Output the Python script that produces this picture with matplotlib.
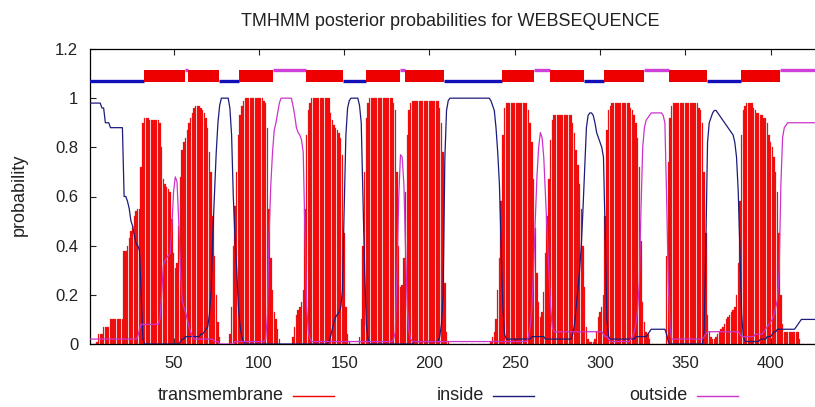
import numpy as np
import matplotlib
matplotlib.use("Agg")
import matplotlib.pyplot as plt
from matplotlib.lines import Line2D

plt.rcParams['font.family'] = ['Liberation Sans', 'DejaVu Sans']

#%% data, one value per residue (1..426)
tm_prob = [
    0.00, 0.00, 0.00, 0.00, 0.01, 0.04, 0.04, 0.04, 0.07, 0.07,  # 1-10
    0.07, 0.07, 0.10, 0.10, 0.10, 0.10, 0.10, 0.10, 0.10, 0.10,  # 11-20
    0.38, 0.38, 0.40, 0.43, 0.46, 0.48, 0.52, 0.54, 0.55, 0.55,  # 21-30
    0.72, 0.90, 0.92, 0.92, 0.92, 0.91, 0.91, 0.91, 0.91, 0.91,  # 31-40
    0.91, 0.90, 0.80, 0.67, 0.65, 0.64, 0.63, 0.62, 0.51, 0.37,  # 41-50
    0.31, 0.33, 0.48, 0.68, 0.79, 0.82, 0.84, 0.87, 0.90, 0.92,  # 51-60
    0.94, 0.96, 0.97, 0.97, 0.97, 0.96, 0.95, 0.94, 0.92, 0.88,  # 61-70
    0.78, 0.70, 0.52, 0.36, 0.20, 0.09, 0.03, 0.00, 0.00, 0.00,  # 71-80
    0.00, 0.00, 0.04, 0.15, 0.40, 0.56, 0.70, 0.85, 0.93, 0.97,  # 81-90
    0.99, 1.00, 1.00, 1.00, 1.00, 1.00, 1.00, 1.00, 1.00, 1.00,  # 91-100
    1.00, 1.00, 0.99, 0.98, 0.88, 0.55, 0.35, 0.22, 0.13, 0.10,  # 101-110
    0.06, 0.02, 0.00, 0.00, 0.00, 0.00, 0.00, 0.00, 0.00, 0.03,  # 111-120
    0.07, 0.12, 0.14, 0.15, 0.17, 0.22, 0.55, 0.85, 0.95, 0.98,  # 121-130
    1.00, 1.00, 1.00, 1.00, 1.00, 1.00, 1.00, 1.00, 1.00, 1.00,  # 131-140
    1.00, 0.94, 0.91, 0.89, 0.88, 0.87, 0.86, 0.84, 0.77, 0.45,  # 141-150
    0.15, 0.04, 0.01, 0.00, 0.00, 0.00, 0.00, 0.00, 0.03, 0.10,  # 151-160
    0.40, 0.70, 0.92, 0.98, 1.00, 1.00, 1.00, 1.00, 1.00, 1.00,  # 161-170
    1.00, 1.00, 1.00, 1.00, 1.00, 1.00, 1.00, 1.00, 0.98, 0.95,  # 171-180
    0.70, 0.40, 0.23, 0.24, 0.35, 0.62, 0.85, 0.95, 0.98, 0.99,  # 181-190
    0.99, 0.99, 0.99, 0.99, 0.99, 0.99, 0.99, 0.99, 0.99, 0.99,  # 191-200
    0.99, 0.99, 0.99, 0.99, 0.99, 0.96, 0.90, 0.78, 0.25, 0.05,  # 201-210
    0.01, 0.00, 0.00, 0.00, 0.00, 0.00, 0.00, 0.00, 0.00, 0.00,  # 211-220
    0.00, 0.00, 0.00, 0.00, 0.00, 0.00, 0.00, 0.00, 0.00, 0.00,  # 221-230
    0.00, 0.00, 0.00, 0.00, 0.00, 0.01, 0.03, 0.05, 0.10, 0.22,  # 231-240
    0.35, 0.58, 0.85, 0.96, 0.98, 0.98, 0.98, 0.98, 0.98, 0.98,  # 241-250
    0.98, 0.98, 0.98, 0.98, 0.98, 0.98, 0.98, 0.95, 0.90, 0.82,  # 251-260
    0.67, 0.47, 0.29, 0.17, 0.11, 0.13, 0.21, 0.37, 0.52, 0.67,  # 261-270
    0.83, 0.91, 0.93, 0.93, 0.93, 0.93, 0.93, 0.93, 0.93, 0.93,  # 271-280
    0.93, 0.93, 0.93, 0.90, 0.86, 0.79, 0.73, 0.65, 0.55, 0.40,  # 281-290
    0.23, 0.07, 0.02, 0.01, 0.01, 0.01, 0.02, 0.05, 0.11, 0.13,  # 291-300
    0.15, 0.20, 0.52, 0.87, 0.95, 0.97, 0.98, 0.98, 0.98, 0.98,  # 301-310
    0.98, 0.98, 0.98, 0.98, 0.98, 0.98, 0.98, 0.96, 0.95, 0.93,  # 311-320
    0.90, 0.84, 0.72, 0.42, 0.17, 0.09, 0.05, 0.04, 0.02, 0.00,  # 321-330
    0.00, 0.00, 0.00, 0.00, 0.00, 0.00, 0.00, 0.00, 0.36, 0.74,  # 331-340
    0.92, 0.97, 0.98, 0.98, 0.98, 0.98, 0.98, 0.98, 0.98, 0.98,  # 341-350
    0.98, 0.98, 0.98, 0.98, 0.98, 0.98, 0.98, 0.96, 0.95, 0.90,  # 351-360
    0.70, 0.45, 0.12, 0.05, 0.03, 0.02, 0.02, 0.03, 0.04, 0.05,  # 361-370
    0.06, 0.07, 0.08, 0.10, 0.11, 0.12, 0.13, 0.14, 0.15, 0.20,  # 371-380
    0.33, 0.58, 0.85, 0.95, 0.97, 0.98, 0.98, 0.98, 0.98, 0.96,  # 381-390
    0.95, 0.94, 0.94, 0.93, 0.93, 0.92, 0.92, 0.90, 0.85, 0.82,  # 391-400
    0.80, 0.76, 0.70, 0.62, 0.45, 0.20, 0.08, 0.05, 0.05, 0.05,  # 401-410
    0.05, 0.05, 0.05, 0.05, 0.05, 0.05, 0.02, 0.00, 0.00, 0.00,  # 411-420
    0.00, 0.00, 0.00, 0.00, 0.00, 0.00,                          # 421-426
]

inside_prob = [
    0.98, 0.98, 0.98, 0.98, 0.98, 0.98, 0.98, 0.96, 0.96, 0.90,  # 1-10
    0.90, 0.90, 0.88, 0.88, 0.88, 0.88, 0.88, 0.88, 0.88, 0.88,  # 11-20
    0.60, 0.60, 0.58, 0.55, 0.50, 0.48, 0.44, 0.41, 0.40, 0.38,  # 21-30
    0.20, 0.02, 0.00, 0.00, 0.00, 0.00, 0.00, 0.00, 0.00, 0.00,  # 31-40
    0.00, 0.00, 0.00, 0.00, 0.00, 0.00, 0.00, 0.00, 0.00, 0.00,  # 41-50
    0.00, 0.00, 0.00, 0.01, 0.02, 0.02, 0.03, 0.03, 0.03, 0.03,  # 51-60
    0.03, 0.03, 0.03, 0.03, 0.03, 0.04, 0.04, 0.05, 0.06, 0.07,  # 61-70
    0.12, 0.22, 0.45, 0.62, 0.78, 0.90, 0.97, 1.00, 1.00, 1.00,  # 71-80
    1.00, 1.00, 0.96, 0.85, 0.60, 0.43, 0.30, 0.15, 0.07, 0.03,  # 81-90
    0.01, 0.00, 0.00, 0.00, 0.00, 0.00, 0.00, 0.00, 0.00, 0.00,  # 91-100
    0.00, 0.00, 0.00, 0.00, 0.00, 0.00, 0.00, 0.00, 0.00, 0.00,  # 101-110
    0.00, 0.00, 0.00, 0.00, 0.00, 0.00, 0.00, 0.00, 0.00, 0.00,  # 111-120
    0.00, 0.00, 0.00, 0.00, 0.00, 0.00, 0.00, 0.00, 0.00, 0.00,  # 121-130
    0.00, 0.00, 0.00, 0.00, 0.00, 0.00, 0.00, 0.00, 0.00, 0.00,  # 131-140
    0.01, 0.03, 0.06, 0.09, 0.11, 0.12, 0.13, 0.15, 0.22, 0.55,  # 141-150
    0.85, 0.96, 0.99, 1.00, 1.00, 1.00, 1.00, 1.00, 0.97, 0.90,  # 151-160
    0.60, 0.30, 0.08, 0.02, 0.00, 0.00, 0.00, 0.00, 0.00, 0.00,  # 161-170
    0.00, 0.00, 0.00, 0.00, 0.00, 0.00, 0.00, 0.00, 0.00, 0.00,  # 171-180
    0.00, 0.00, 0.00, 0.00, 0.00, 0.00, 0.00, 0.00, 0.00, 0.00,  # 181-190
    0.01, 0.01, 0.01, 0.01, 0.01, 0.01, 0.01, 0.01, 0.01, 0.01,  # 191-200
    0.01, 0.01, 0.01, 0.01, 0.01, 0.03, 0.08, 0.20, 0.75, 0.95,  # 201-210
    0.99, 1.00, 1.00, 1.00, 1.00, 1.00, 1.00, 1.00, 1.00, 1.00,  # 211-220
    1.00, 1.00, 1.00, 1.00, 1.00, 1.00, 1.00, 1.00, 1.00, 1.00,  # 221-230
    1.00, 1.00, 1.00, 1.00, 1.00, 0.99, 0.97, 0.95, 0.88, 0.78,  # 231-240
    0.65, 0.40, 0.15, 0.04, 0.02, 0.02, 0.02, 0.02, 0.02, 0.02,  # 241-250
    0.02, 0.02, 0.02, 0.02, 0.02, 0.02, 0.02, 0.02, 0.02, 0.03,  # 251-260
    0.03, 0.03, 0.03, 0.03, 0.03, 0.03, 0.03, 0.02, 0.02, 0.02,  # 261-270
    0.02, 0.02, 0.02, 0.02, 0.02, 0.02, 0.02, 0.02, 0.02, 0.02,  # 271-280
    0.02, 0.02, 0.02, 0.04, 0.08, 0.15, 0.22, 0.30, 0.40, 0.55,  # 281-290
    0.72, 0.88, 0.93, 0.94, 0.94, 0.93, 0.90, 0.86, 0.84, 0.82,  # 291-300
    0.80, 0.76, 0.45, 0.10, 0.03, 0.02, 0.02, 0.02, 0.02, 0.02,  # 301-310
    0.02, 0.02, 0.02, 0.02, 0.02, 0.02, 0.02, 0.02, 0.02, 0.02,  # 311-320
    0.03, 0.03, 0.03, 0.03, 0.03, 0.03, 0.03, 0.04, 0.05, 0.06,  # 321-330
    0.06, 0.06, 0.06, 0.06, 0.06, 0.06, 0.06, 0.06, 0.04, 0.01,  # 331-340
    0.00, 0.00, 0.00, 0.00, 0.00, 0.00, 0.00, 0.00, 0.00, 0.00,  # 341-350
    0.00, 0.00, 0.00, 0.00, 0.00, 0.00, 0.00, 0.00, 0.00, 0.00,  # 351-360
    0.05, 0.40, 0.82, 0.90, 0.92, 0.94, 0.95, 0.95, 0.94, 0.93,  # 361-370
    0.92, 0.91, 0.90, 0.89, 0.88, 0.87, 0.86, 0.85, 0.82, 0.76,  # 371-380
    0.62, 0.38, 0.12, 0.03, 0.01, 0.01, 0.01, 0.01, 0.01, 0.01,  # 381-390
    0.01, 0.01, 0.01, 0.02, 0.02, 0.02, 0.02, 0.03, 0.03, 0.03,  # 391-400
    0.04, 0.05, 0.05, 0.06, 0.06, 0.06, 0.06, 0.06, 0.06, 0.06,  # 401-410
    0.06, 0.06, 0.06, 0.06, 0.07, 0.08, 0.09, 0.10, 0.10, 0.10,  # 411-420
    0.10, 0.10, 0.10, 0.10, 0.10, 0.10,                          # 421-426
]

outside_prob = [
    0.02, 0.02, 0.02, 0.02, 0.02, 0.02, 0.02, 0.02, 0.02, 0.02,  # 1-10
    0.02, 0.02, 0.02, 0.02, 0.02, 0.02, 0.02, 0.02, 0.02, 0.02,  # 11-20
    0.02, 0.02, 0.02, 0.02, 0.02, 0.02, 0.02, 0.02, 0.03, 0.06,  # 21-30
    0.08, 0.08, 0.08, 0.08, 0.08, 0.08, 0.08, 0.08, 0.08, 0.08,  # 31-40
    0.08, 0.10, 0.20, 0.32, 0.34, 0.35, 0.36, 0.37, 0.48, 0.62,  # 41-50
    0.68, 0.66, 0.50, 0.30, 0.18, 0.15, 0.13, 0.10, 0.07, 0.05,  # 51-60
    0.03, 0.02, 0.02, 0.02, 0.02, 0.02, 0.02, 0.02, 0.02, 0.02,  # 61-70
    0.02, 0.02, 0.02, 0.01, 0.01, 0.01, 0.00, 0.00, 0.00, 0.00,  # 71-80
    0.00, 0.00, 0.00, 0.00, 0.00, 0.01, 0.01, 0.01, 0.01, 0.01,  # 81-90
    0.01, 0.01, 0.01, 0.01, 0.01, 0.01, 0.01, 0.01, 0.01, 0.01,  # 91-100
    0.01, 0.01, 0.01, 0.02, 0.12, 0.45, 0.65, 0.78, 0.87, 0.90,  # 101-110
    0.94, 0.98, 1.00, 1.00, 1.00, 1.00, 1.00, 1.00, 1.00, 0.97,  # 111-120
    0.93, 0.88, 0.86, 0.85, 0.83, 0.78, 0.45, 0.15, 0.05, 0.02,  # 121-130
    0.01, 0.01, 0.01, 0.01, 0.01, 0.01, 0.01, 0.01, 0.01, 0.01,  # 131-140
    0.01, 0.01, 0.01, 0.01, 0.01, 0.01, 0.01, 0.01, 0.01, 0.01,  # 141-150
    0.01, 0.01, 0.01, 0.01, 0.01, 0.01, 0.01, 0.01, 0.01, 0.01,  # 151-160
    0.01, 0.01, 0.01, 0.01, 0.01, 0.01, 0.01, 0.01, 0.01, 0.01,  # 161-170
    0.01, 0.01, 0.01, 0.01, 0.01, 0.01, 0.01, 0.01, 0.02, 0.05,  # 171-180
    0.30, 0.60, 0.77, 0.76, 0.65, 0.38, 0.15, 0.05, 0.02, 0.01,  # 181-190
    0.01, 0.01, 0.01, 0.01, 0.01, 0.01, 0.01, 0.01, 0.01, 0.01,  # 191-200
    0.01, 0.01, 0.01, 0.01, 0.01, 0.01, 0.01, 0.01, 0.01, 0.01,  # 201-210
    0.01, 0.01, 0.01, 0.01, 0.01, 0.01, 0.01, 0.01, 0.01, 0.01,  # 211-220
    0.01, 0.01, 0.01, 0.01, 0.01, 0.01, 0.01, 0.01, 0.01, 0.01,  # 221-230
    0.01, 0.01, 0.01, 0.01, 0.01, 0.01, 0.01, 0.01, 0.01, 0.01,  # 231-240
    0.01, 0.01, 0.01, 0.01, 0.01, 0.01, 0.01, 0.01, 0.01, 0.01,  # 241-250
    0.01, 0.01, 0.01, 0.01, 0.01, 0.01, 0.01, 0.03, 0.07, 0.15,  # 251-260
    0.30, 0.50, 0.68, 0.80, 0.86, 0.84, 0.76, 0.60, 0.45, 0.30,  # 261-270
    0.15, 0.07, 0.05, 0.05, 0.05, 0.05, 0.05, 0.05, 0.05, 0.05,  # 271-280
    0.05, 0.05, 0.05, 0.05, 0.05, 0.05, 0.05, 0.05, 0.05, 0.05,  # 281-290
    0.05, 0.05, 0.05, 0.05, 0.05, 0.05, 0.05, 0.05, 0.05, 0.05,  # 291-300
    0.05, 0.04, 0.03, 0.03, 0.02, 0.01, 0.01, 0.01, 0.01, 0.01,  # 301-310
    0.01, 0.01, 0.01, 0.01, 0.01, 0.01, 0.01, 0.02, 0.03, 0.05,  # 311-320
    0.08, 0.14, 0.25, 0.55, 0.80, 0.88, 0.91, 0.92, 0.93, 0.94,  # 321-330
    0.94, 0.94, 0.94, 0.94, 0.94, 0.94, 0.93, 0.90, 0.60, 0.25,  # 331-340
    0.07, 0.02, 0.02, 0.02, 0.02, 0.02, 0.02, 0.02, 0.02, 0.02,  # 341-350
    0.02, 0.02, 0.02, 0.02, 0.02, 0.02, 0.02, 0.02, 0.02, 0.02,  # 351-360
    0.03, 0.04, 0.05, 0.05, 0.05, 0.05, 0.05, 0.05, 0.05, 0.05,  # 361-370
    0.05, 0.05, 0.05, 0.05, 0.05, 0.05, 0.05, 0.05, 0.05, 0.05,  # 371-380
    0.05, 0.04, 0.03, 0.03, 0.03, 0.03, 0.03, 0.03, 0.03, 0.03,  # 381-390
    0.04, 0.04, 0.04, 0.04, 0.04, 0.05, 0.06, 0.07, 0.08, 0.09,  # 391-400
    0.10, 0.12, 0.15, 0.18, 0.30, 0.65, 0.84, 0.88, 0.89, 0.90,  # 401-410
    0.90, 0.90, 0.90, 0.90, 0.90, 0.90, 0.90, 0.90, 0.90, 0.90,  # 411-420
    0.90, 0.90, 0.90, 0.90, 0.90, 0.90,                          # 421-426
]

# predicted topology (first, last residue)
inside_segs = [(1, 32), (77, 88), (150, 162), (209, 242), (291, 302), (363, 382)]
tm_segs = [(33, 56), (59, 76), (89, 108), (128, 149), (163, 182), (186, 208),
           (243, 261), (271, 290), (303, 325), (341, 362), (383, 405)]
outside_segs = [(57, 58), (109, 127), (183, 185), (262, 270), (326, 340), (406, 426)]

seq_name = "WEBSEQUENCE"
n_res = len(tm_prob)
assert n_res == len(inside_prob) == len(outside_prob) == 426

#%%
RED = '#f00000'
BLUE = '#1c1c7a'
MAGENTA = '#cc33cc'
TXT = '#222222'

fig = plt.figure(figsize=(8.15, 4.07), dpi=100)
ax = fig.add_axes([90/815, 1 - 344/407, 725/815, 295/407])

res = np.arange(1, n_res + 1)
ax.bar(res, tm_prob, width=0.8, color='#ff0000', edgecolor='#c43a3a', linewidth=0.2, zorder=2)
ax.plot(res, inside_prob, color=BLUE, lw=0.9, zorder=3)
ax.plot(res, outside_prob, color=MAGENTA, lw=0.9, zorder=3)

# topology strip above the curves
for a, b in inside_segs:
    ax.hlines(1.068, a - 0.5, b + 0.5, color='#1010b8', lw=2.4, zorder=4)
for a, b in outside_segs:
    ax.hlines(1.113, a - 0.5, b + 0.5, color='#d040d8', lw=2.4, zorder=4)
ax.broken_barh([(a - 0.5, b - a + 1) for a, b in tm_segs], (1.066, 0.049),
               facecolor='#ee0000', edgecolor='none', zorder=5)

ax.set_xlim(1, n_res)
ax.set_ylim(0, 1.2)
ax.set_xticks([50, 100, 150, 200, 250, 300, 350, 400])
ax.set_yticks([0, 0.2, 0.4, 0.6, 0.8, 1.0, 1.2])
ax.set_yticklabels(['0', '0.2', '0.4', '0.6', '0.8', '1', '1.2'])
ax.tick_params(direction='in', length=4, width=0.8, top=True, right=False,
               labelsize=12, colors=TXT, pad=8.5)
for s in ['left', 'top', 'bottom']:
    ax.spines[s].set_linewidth(0.9)
ax.spines['right'].set_visible(False)

fig.text(450/815, 1 - 22/407, f"TMHMM posterior probabilities for {seq_name}",
         ha='center', va='center', fontsize=13, color=TXT)
fig.text(19/815, 1 - 195/407, "probability", rotation=90,
         ha='center', va='center', fontsize=13, color=TXT)

# legend below the axis, gnuplot style
legend_items = [("transmembrane", RED, 284), ("inside", BLUE, 484), ("outside", MAGENTA, 688)]
for label, col, xr in legend_items:
    fig.text(xr/815, 1 - 396/407, label, ha='right', va='center', fontsize=13, color=TXT)
    fig.add_artist(Line2D([(xr + 9)/815, (xr + 50)/815], [1 - 396/407, 1 - 396/407],
                          color=col, lw=1.0, transform=fig.transFigure))

fig.savefig("out.png", dpi=100)
